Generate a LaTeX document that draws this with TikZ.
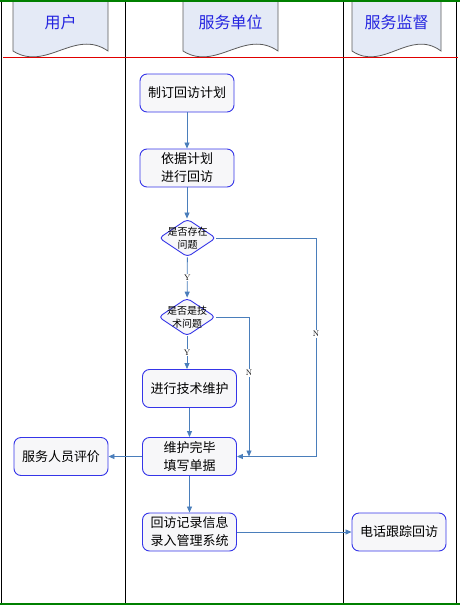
\documentclass[tikz,border=0pt]{standalone}
\usepackage{fontspec}
\newfontfamily\cjk{Noto Sans CJK SC}
\usepackage{tikz}
\usetikzlibrary{
	arrows.meta,
	positioning,
	calc,
	shapes.geometric
}
\definecolor{BoxEdge}{HTML}{3535E8}
\definecolor{BoxFill}{HTML}{F7F7F9}
\definecolor{FlowBlue}{HTML}{4A7EBB}
\definecolor{HeadFill}{HTML}{E4EAF6}
\definecolor{HeadEdge}{HTML}{5A5A5A}
\definecolor{HeadText}{HTML}{2424E0}
\definecolor{LaneGreen}{HTML}{008000}
\definecolor{LaneRed}{HTML}{E00000}

\begin{document}
\begin{tikzpicture}[x=1pt,y=-1pt,
 box/.style={draw=BoxEdge,fill=BoxFill,line width=.9pt,rounded corners=7pt,align=center,
   minimum width=94pt,minimum height=38pt,inner sep=2pt,font=\cjk\fontsize{13}{18}\selectfont},
 dec/.style={diamond,draw=BoxEdge,fill=BoxFill,line width=.9pt,rounded corners=4pt,
   minimum width=57pt,minimum height=38pt,inner sep=0pt},
 dectext/.style={font=\cjk\fontsize{10}{13}\selectfont,align=center},
 flow/.style={-{Triangle[length=6pt,width=5pt]},draw=FlowBlue,line width=.8pt},
 yn/.style={font=\fontsize{8}{8}\selectfont,fill=white,inner sep=1pt},
 head/.style={font=\cjk\fontsize{16}{16}\selectfont,text=HeadText}
]
 \useasboundingbox (0,0) rectangle (460,605);
 % lanes
 \foreach \x in {1,125,343,456}
   \draw[line width=1pt] (\x,0) -- (\x,605);
 \foreach \nm/\xa/\xb/\tx in {huser/13/108/用户,hunit/183/278/服务单位,hcheck/352/441/服务监督}{
   \pgfmathsetmacro{\w}{\xb-\xa}
   \draw[draw=HeadEdge,fill=HeadFill,line width=.8pt]
     (\xa,0) -- (\xa,51) .. controls ({\xa+0.35*\w},72) and ({\xa+0.65*\w},28) .. (\xb,51) -- (\xb,0);
   \node[head] (\nm) at ({(\xa+\xb)/2},22) {\tx};
 }
 \draw[LaneRed,line width=.8pt] (3,57) -- (458,57);
 \draw[LaneGreen,line width=2pt] (0,1) -- (460,1);
 \draw[LaneGreen,line width=2pt] (0,604) -- (460,604);

 % steps
 \node[box] (plan) at (187,93) {制订回访计划};
 \node[box] (visit) at (187,168) {依据计划\\进行回访};
 \node[dec,label={[dectext]center:{是否存在\\问题}}] (issue) at (187.5,238) {};
 \node[dec,label={[dectext]center:{是否是技\\术问题}}] (tech) at (187,317) {};
 \node[box] (fix) at (189.5,388.5) {进行技术维护};
 \node[box] (done) at (189.5,456.5) {维护完毕\\填写单据};
 \node[box] (rate) at (61,456.5) {服务人员评价};
 \node[box] (record) at (189.5,532) {回访记录信息\\录入管理系统};
 \node[box] (phone) at (399,532) {电话跟踪回访};
 \coordinate (nbend) at (316,456.5);
 \coordinate (tbend) at (249,456.5);

 \draw[flow] (plan) -- (visit);
 \draw[flow] (visit.south) -- (visit.south |- issue.north);
 \draw[flow] (issue) -- node[yn]{Y} (tech);
 \draw[flow] (tech.south) -- node[yn]{Y} (tech.south |- fix.north);
 \draw[flow] (fix) -- (done);
 \draw[flow] (issue.east) -| node[yn,pos=.72]{N} (nbend) -- (done.east);
 \draw[flow] (tech.east) -| node[yn,pos=.7]{N} (tbend);
 \draw[flow] (done) -- (rate);
 \draw[flow] (done) -- (record);
 \draw[flow] (record) -- (phone);
\end{tikzpicture}
\end{document}
